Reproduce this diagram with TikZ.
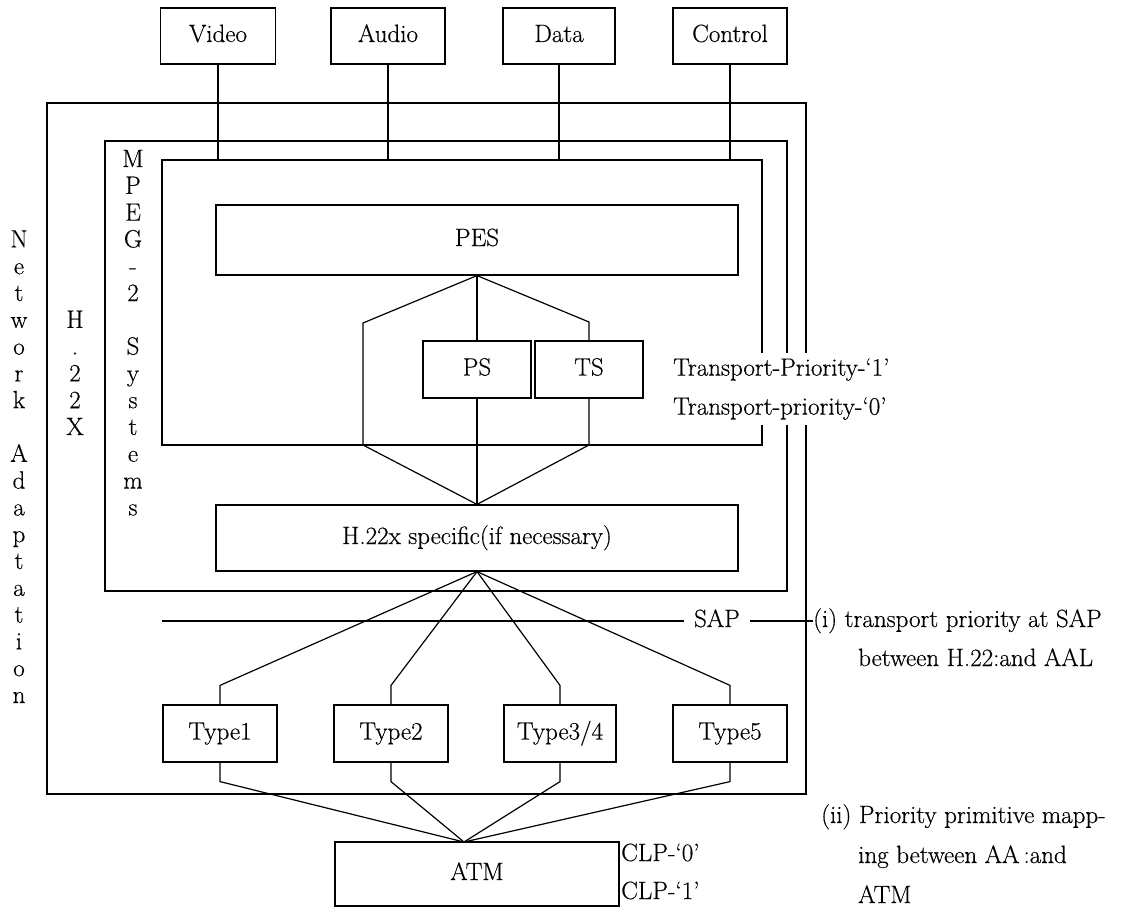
\documentclass[tikz,border=0pt]{standalone}
\usepackage{fontspec}
\setmainfont{Latin Modern Roman}[FakeBold=0.4]
\usetikzlibrary{calc}
\begin{document}
\begin{tikzpicture}[x=1pt,y=-1pt,
  lw/.style={line width=1.2pt},
  every node/.style={font=\fontsize{25}{27}\selectfont, inner sep=0pt, text height=17pt, text depth=5pt},
  box/.style={draw, line width=1.2pt},
  vl/.style={anchor=base, text height=, text depth=},
]
\fill[white] (0,0) rectangle (1137,912);
\useasboundingbox (0,0) rectangle (1137,912);

% frames
\coordinate (oNW) at (47,103); \coordinate (oSE) at (806,794);
\draw[lw] (oNW) rectangle (oSE);
\coordinate (mNW) at (105,141); \coordinate (mSE) at (787,591);
\draw[lw] (mNW) rectangle (mSE);
\coordinate (iNW) at (162,160); \coordinate (iSE) at (762,445);
\draw[lw] (iNW) rectangle (iSE);

% top boxes
\node[box, minimum width=115pt, minimum height=56pt] (video) at (218,36) {Video};
\node[box, minimum width=114pt, minimum height=56pt] (audio) at (388,36) {Audio};
\node[box, minimum width=112pt, minimum height=56pt] (data) at (559,36) {Data};
\node[box, minimum width=114pt, minimum height=56pt] (control) at (730,36) {Control};
\foreach \n in {video,audio,data,control} \draw[lw] (\n.south) -- (\n.south |- iNW);

% PES / PS / TS / H.22x
\node[box, minimum width=522pt, minimum height=70pt] (pes) at (477,240) {PES};
\node[box, minimum width=108pt, minimum height=57pt] (ps) at (477,369.5) {PS};
\node[box, minimum width=108pt, minimum height=57pt] (ts) at (589,369.5) {TS};
\node[box, minimum width=522pt, minimum height=66pt] (h22) at (477,538) {H.22x specific(if necessary)};
\coordinate (hexL1) at (363,323); \coordinate (hexL2) at (363,445);
\coordinate (hexR1) at (589,322); \coordinate (hexR2) at (589,445);
\draw[lw] (pes.south) -- (hexL1) -- (hexL2) -- (h22.north);
\draw[lw] (pes.south) -- (ps.north);
\draw[lw] (ps.south) -- (h22.north);
\draw[lw] (pes.south) -- (hexR1) -- (ts.north);
\draw[lw] (ts.south) -- (hexR2) -- (h22.north);

% transport priority labels
\node[fill=white, anchor=west, align=left, font=\fontsize{25}{39}\selectfont,
      text height=, text depth=, inner xsep=0pt, inner ysep=5pt] (tp) at (673,389)
  {Transport-Priority-`1'\\Transport-priority-`0'};

% vertical texts
\foreach \c/\k in {N/3,e/4,t/5,w/6,o/7,r/8,k/9,A/11,d/12,a/13,p/14,t/15,a/16,t/17,i/18,o/19,n/20}
  \node[vl] (na\k) at (19,{167+26.8*\k}) {\c};
\foreach \c/\k in {H/6,./7,2/8,2/9,X/10}
  \node[vl] (hx\k) at (75,{167+26.8*\k}) {\c};
\foreach \c/\k in {M/0,P/1,E/2,G/3,-/4,2/5,S/7,y/8,s/9,t/10,e/11,m/12,s/13}
  \node[vl] (mp\k) at (133,{167+26.8*\k}) {\c};

% SAP
\coordinate (sapL) at (162,621);
\node[inner xsep=10pt] (sap) at (717,621) {SAP};
\node[anchor=west] (i1) at (813,621) {(i) transport priority at SAP};
\node[anchor=west] (i2) at (858,660) {between H.22:and AAL};
\draw[lw] (sapL) -- (sap.west);
\draw[lw] (sap.east) -- (i1.west);

% AAL types
\node[box, minimum width=114pt, minimum height=57pt] (type1) at (220,733.5) {Type1};
\node[box, minimum width=114pt, minimum height=57pt] (type2) at (391,733.5) {Type2};
\node[box, minimum width=112pt, minimum height=57pt] (type3) at (560,733.5) {Type3/4};
\node[box, minimum width=114pt, minimum height=57pt] (type5) at (730,733.5) {Type5};

% ATM
\node[box, minimum width=284pt, minimum height=64pt] (atm) at (477,874) {ATM};
\coordinate (atmin) at (464,842);

\foreach \t in {type1,type2,type3,type5} {
  \draw[lw] (h22.south) -- ($(\t.north)+(0,-19)$) -- (\t.north);
  \draw[lw] (\t.south) -- ($(\t.south)+(0,19)$) -- (atmin);
}

\node[anchor=west] (clp0) at (621,855) {CLP-`0'};
\node[anchor=west] (clp1) at (621,893) {CLP-`1'};
\node[anchor=west] (ii1) at (821,817) {(ii) Priority primitive mapp-};
\node[anchor=west] (ii2) at (858,857) {ing between AA\,:and};
\node[anchor=west] (ii3) at (858,897) {ATM};
\end{tikzpicture}
\end{document}
